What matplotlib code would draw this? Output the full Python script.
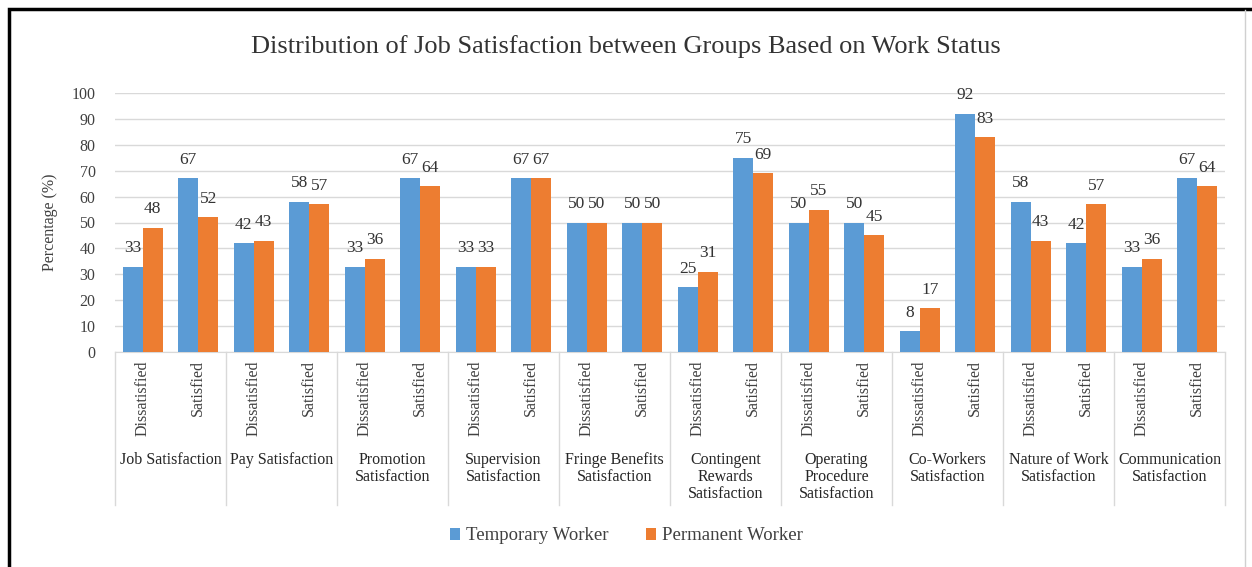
import matplotlib.pyplot as plt
from matplotlib.transforms import blended_transform_factory
from matplotlib.lines import Line2D
from matplotlib.patches import Rectangle

# Données
groups = ['Job Satisfaction', 'Pay Satisfaction', 'Promotion\nSatisfaction',
          'Supervision\nSatisfaction', 'Fringe Benefits\nSatisfaction',
          'Contingent\nRewards\nSatisfaction', 'Operating\nProcedure\nSatisfaction',
          'Co-Workers\nSatisfaction', 'Nature of Work\nSatisfaction',
          'Communication\nSatisfaction']
levels = ['Dissatisfied', 'Satisfied']
temporary = [33, 67, 42, 58, 33, 67, 33, 67, 50, 50, 25, 75, 50, 50, 8, 92, 58, 42, 33, 67]
permanent = [48, 52, 43, 57, 36, 64, 33, 67, 50, 50, 31, 69, 55, 45, 17, 83, 43, 57, 36, 64]

blue = '#5B9BD5'
orange = '#ED7D31'
plt.rcParams['font.family'] = ['Liberation Serif', 'DejaVu Serif']

fig = plt.figure(figsize=(12.52, 5.67), dpi=100)
ax = fig.add_axes([115 / 1252, 1 - 352 / 567, 1110 / 1252, 259 / 567])

x = list(range(len(temporary)))
w = 0.36
ax.bar([i - w / 2 for i in x], temporary, width=w, color=blue, label='Temporary Worker', zorder=3)
ax.bar([i + w / 2 for i in x], permanent, width=w, color=orange, label='Permanent Worker', zorder=3)

for i in x:
    ax.text(i - w / 2, temporary[i] + 4, str(temporary[i]), ha='center', va='bottom', fontsize=12.5, color='#333333')
    ax.text(i + w / 2, permanent[i] + 4, str(permanent[i]), ha='center', va='bottom', fontsize=12.5, color='#333333')

ax.set_xlim(-0.5, len(x) - 0.5)
ax.set_ylim(0, 100)
ax.set_yticks(range(0, 101, 10))
ax.tick_params(axis='y', length=0, labelsize=11.5, labelcolor='#404040', pad=14)
ax.grid(axis='y', color='#D9D9D9', linewidth=1, zorder=0)
ax.spines[['left', 'top', 'right']].set_visible(False)
ax.spines['bottom'].set_color('#D9D9D9')
ax.set_ylabel('Percentage (%)', fontsize=11.5, color='#404040', labelpad=10)

# Axe des catégories à deux niveaux
ax.set_xticks(x)
ax.set_xticklabels([levels[i % 2] for i in x], rotation=90, fontsize=11.5, color='#404040', va='top')
ax.tick_params(axis='x', length=0, pad=6)
trans = blended_transform_factory(ax.transData, ax.transAxes)
for k in range(len(groups) + 1):
    ax.add_line(Line2D([2 * k - 0.5, 2 * k - 0.5], [0, -0.59], transform=trans,
                       color='#D9D9D9', linewidth=1, clip_on=False))
for k, g in enumerate(groups):
    ax.text(2 * k + 0.5, -0.385, g, transform=trans, ha='center', va='top',
            fontsize=11.5, color='#262626', linespacing=1.08)

fig.suptitle('Distribution of Job Satisfaction between Groups Based on Work Status',
             x=0.5, y=1 - 47 / 567, va='center', fontsize=19, color='#333333')

fig.legend(loc='center', bbox_to_anchor=(0.5, 1 - 536 / 567), ncol=2, frameon=False,
           fontsize=13.5, handlelength=0.55, handleheight=0.55, handletextpad=0.3,
           columnspacing=2.0, labelcolor='#404040')

# Cadre noir de la capture
fig.patches.append(Rectangle((9 / 1252, -0.1), 2, 1.1 - 9 / 567, transform=fig.transFigure,
                             fill=False, edgecolor='black', linewidth=2.5))
fig.lines.append(Line2D([1245 / 1252, 1245 / 1252], [0, 1 - 10 / 567], transform=fig.transFigure,
                        color='#D0D0D0', linewidth=1))

fig.savefig('out.png', dpi=100)
